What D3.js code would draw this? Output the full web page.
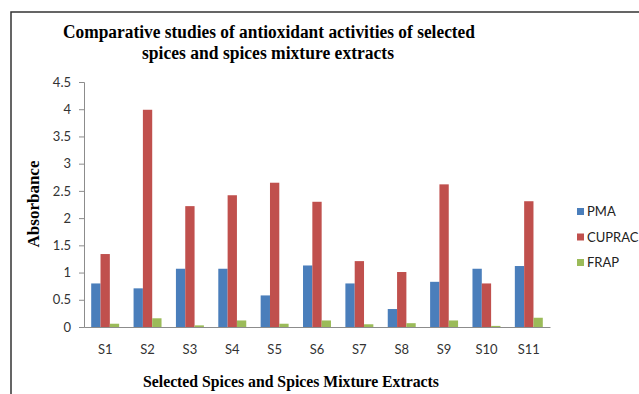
<!DOCTYPE html>
<html>
<head>
<meta charset="utf-8">
<script src="https://cdn.jsdelivr.net/npm/d3@7"></script>
<style>
  html, body { margin: 0; padding: 0; background: #fff; }
  svg { display: block; }
</style>
</head>
<body>
<svg id="chart" width="639" height="394"></svg>
<script>
// Absorbance readings for each extract, by assay
const samples = ["S1", "S2", "S3", "S4", "S5", "S6", "S7", "S8", "S9", "S10", "S11"];
const seriesNames = ["PMA", "CUPRAC", "FRAP"];
const pma    = [0.80, 0.71, 1.07, 1.07, 0.58, 1.13, 0.80, 0.33, 0.83, 1.07, 1.12];
const cuprac = [1.34, 3.99, 2.22, 2.42, 2.65, 2.30, 1.21, 1.01, 2.62, 0.80, 2.31];
const frap   = [0.06, 0.16, 0.03, 0.12, 0.06, 0.12, 0.05, 0.07, 0.12, 0.02, 0.17];
const yTicks = [0, 0.5, 1, 1.5, 2, 2.5, 3, 3.5, 4, 4.5];
const colors = ["#4a7ebb", "#c0504d", "#9bbb59"];

const values = [pma, cuprac, frap];
const svg = d3.select("#chart");
const W = 639, H = 394;

const plot = { left: 84, right: 550, top: 82, bottom: 327 };

// outer frame
svg.append("rect")
  .attr("x", 11).attr("y", 12)
  .attr("width", W - 11 + 2).attr("height", H)
  .attr("fill", "none").attr("stroke", "#333").attr("stroke-width", 1.5);

const x = d3.scaleBand().domain(samples)
  .range([plot.left, plot.right])
  .paddingInner(0.34).paddingOuter(0.17);
const xs = d3.scaleBand().domain(seriesNames).range([0, x.bandwidth()]);
const y = d3.scaleLinear().domain([0, 4.5]).range([plot.bottom, plot.top]);

// y axis
const yAxis = svg.append("g")
  .attr("transform", `translate(${plot.left},0)`)
  .call(d3.axisLeft(y).tickValues(yTicks).tickSize(5).tickPadding(8)
    .tickFormat(d => String(d)));
yAxis.select(".domain").attr("stroke", "#8c8c8c");
yAxis.selectAll(".tick line").attr("stroke", "#8c8c8c");
yAxis.selectAll("text")
  .attr("font-family", "Lato, 'Open Sans', sans-serif")
  .attr("font-size", 13).attr("fill", "#333");

// bars
const groups = svg.append("g").selectAll("g")
  .data(samples)
  .join("g")
  .attr("transform", d => `translate(${x(d)},0)`);

groups.selectAll("rect")
  .data((d, i) => seriesNames.map((s, k) => ({ s, k, v: values[k][i] })))
  .join("rect")
  .attr("x", d => xs(d.s))
  .attr("width", xs.bandwidth())
  .attr("y", d => y(d.v))
  .attr("height", d => y(0) - y(d.v))
  .attr("fill", d => colors[d.k]);

// x axis
const xAxis = svg.append("g")
  .attr("transform", `translate(0,${plot.bottom})`)
  .call(d3.axisBottom(x).tickSize(0).tickPadding(18));
xAxis.select(".domain").attr("stroke", "#8c8c8c");
xAxis.selectAll("text")
  .attr("font-family", "Lato, 'Open Sans', sans-serif")
  .attr("font-size", 13).attr("fill", "#333");

// titles
const serif = "'Liberation Serif', 'Times New Roman', serif";
function boldText(xPos, yPos, size, len, str) {
  return svg.append("text")
    .attr("x", xPos).attr("y", yPos)
    .attr("text-anchor", "middle")
    .attr("font-family", serif).attr("font-weight", "bold").attr("font-size", size)
    .attr("textLength", len).attr("lengthAdjust", "spacingAndGlyphs")
    .text(str);
}
boldText(269, 38, 18.5, 412, "Comparative studies of antioxidant activities of selected");
boldText(268, 59, 18.5, 252, "spices and spices mixture extracts");
boldText(291, 387, 17, 296, "Selected Spices and Spices Mixture Extracts");

svg.append("text")
  .attr("transform", "translate(39,204) rotate(-90)")
  .attr("text-anchor", "middle")
  .attr("font-family", serif).attr("font-weight", "bold").attr("font-size", 17)
  .text("Absorbance");

// legend
const legend = svg.append("g").attr("transform", "translate(577,205)");
seriesNames.forEach((s, k) => {
  const g = legend.append("g").attr("transform", `translate(0,${k * 25.5})`);
  g.append("rect").attr("width", 7).attr("height", 7).attr("y", 3).attr("fill", colors[k]);
  g.append("text").attr("x", 10).attr("y", 11)
    .attr("font-family", "Lato, 'Open Sans', sans-serif")
    .attr("font-size", 13).attr("fill", "#222")
    .text(s);
});
</script>
</body>
</html>
